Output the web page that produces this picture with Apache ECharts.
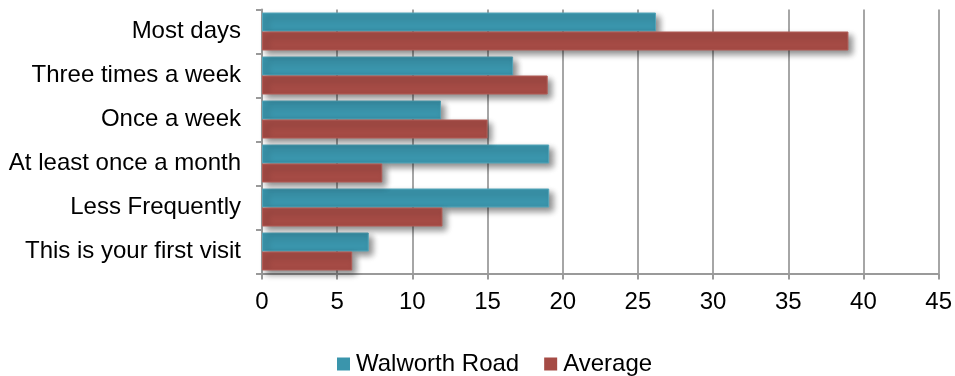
<!DOCTYPE html>
<html>
<head>
<meta charset="utf-8">
<script src="https://cdn.jsdelivr.net/npm/echarts@6/dist/echarts.min.js"></script>
<style>
  html, body { margin: 0; padding: 0; background: #fff; }
  #chart { width: 955px; height: 376px; }
</style>
</head>
<body>
<div id="chart"></div>
<script>
// Visit frequency categories, top to bottom
const categories = [
  'Most days',
  'Three times a week',
  'Once a week',
  'At least once a month',
  'Less Frequently',
  'This is your first visit'
];
const seriesNames = ['Walworth Road', 'Average'];
const walworthRoad = [26.2, 16.7, 11.9, 19.1, 19.1, 7.1];
const average = [39, 19, 15, 8, 12, 6];
const xTicks = { min: 0, max: 45, interval: 5 };

const FONT = '"Liberation Sans", Arial, sans-serif';
const shadow = {
  shadowBlur: 6,
  shadowOffsetX: 4,
  shadowOffsetY: 4,
  shadowColor: 'rgba(0,0,0,0.45)'
};

const chart = echarts.init(document.getElementById('chart'), null, { renderer: 'canvas' });
chart.setOption({
  animation: false,
  color: ['#3A95AC', '#A54B45'],
  grid: { left: 262, right: 15, top: 9.5, bottom: 102.5 },
  legend: {
    data: seriesNames,
    top: 347,
    left: 332,
    itemWidth: 13,
    itemHeight: 13,
    itemGap: 25,
    icon: 'rect',
    itemStyle: { shadowBlur: 0, shadowOffsetX: 0, shadowOffsetY: 0, borderWidth: 0 },
    textStyle: { fontFamily: FONT, fontSize: 24, color: '#000', padding: [0, 0, 0, 1] }
  },
  xAxis: {
    type: 'value',
    min: xTicks.min,
    max: xTicks.max,
    interval: xTicks.interval,
    axisLine: { show: true, lineStyle: { color: '#9a9a9a', width: 2 } },
    axisTick: { show: true, length: 6, lineStyle: { color: '#9a9a9a', width: 2 } },
    splitLine: { show: true, lineStyle: { color: '#a6a6a6', width: 2 } },
    axisLabel: { fontFamily: FONT, fontSize: 24, color: '#000', margin: 17 }
  },
  yAxis: {
    type: 'category',
    data: categories,
    inverse: true,
    axisLine: { show: true, lineStyle: { color: '#9a9a9a', width: 2 } },
    axisTick: { show: true, length: 6, lineStyle: { color: '#9a9a9a', width: 2 } },
    axisLabel: { fontFamily: FONT, fontSize: 24, color: '#000', margin: 21 }
  },
  series: [
    {
      name: seriesNames[0],
      type: 'bar',
      data: walworthRoad,
      barWidth: 19,
      barGap: '0%',
      itemStyle: Object.assign({ color: '#3A95AC', borderColor: '#55A6BA', borderWidth: 1 }, shadow)
    },
    {
      name: seriesNames[1],
      type: 'bar',
      data: average,
      barWidth: 19,
      barGap: '0%',
      itemStyle: Object.assign({ color: '#A54B45', borderColor: '#B25D57', borderWidth: 1 }, shadow)
    }
  ]
});
</script>
</body>
</html>
